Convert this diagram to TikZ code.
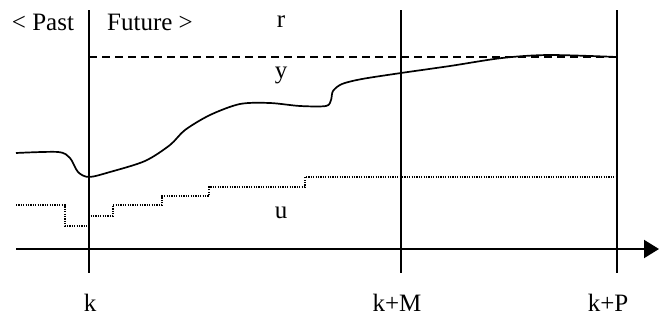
\documentclass[tikz,border=0pt]{standalone}
\usepackage{fontspec}
\setmainfont{Liberation Serif}
\usetikzlibrary{arrows.meta, calc}

\begin{document}
\begin{tikzpicture}[x=0.5pt, y=-0.5pt, font=\fontsize{12.5}{15}\selectfont]
  \useasboundingbox (0,0) rectangle (659,322);

  % time marks
  \coordinate (K) at (89,249);
  \coordinate (M) at (401,249);
  \coordinate (P) at (617,249);
  \coordinate (O) at (16,249);
  \coordinate (E) at (659,249);

  % time axis and vertical lines
  \draw[line width=1pt, -{Triangle[length=7.5pt, width=9pt]}] (O)--(E);
  \foreach \c in {K,M,P}
    \draw[line width=0.75pt] ($(\c)+(0,-239)$) -- ($(\c)+(0,24)$);

  % reference r
  \draw[line width=0.75pt, dash pattern=on 4pt off 2.5pt] (89,57)--(617,57);

  % output y
  \draw[line width=0.85pt] plot[smooth, tension=0.5] coordinates {
    (16,153) (58,152) (70,158) (78,172) (89,177) (110,172) (145,161)
    (170,145) (185,130) (210,115) (240,104) (270,103) (300,106) (326,106)
    (331,100) (333,91) (342,84) (362,79) (401,73) (450,66) (502,58)
    (549,55) (617,57)};

  % input u
  \draw[line width=0.6pt, dash pattern=on 0.6pt off 0.6pt]
    (16,205) -| (65,226) -| (89,216) -| (113,205) -| (162,196)
    -| (209,187) -| (305,177) -- (617,177);

  % labels
  \node at (43,22) {< Past};
  \node at (150,22) {Future >};
  \node at (281,22) {r};
  \node at (281,75) {y};
  \node at (281,213) {u};
  \node at (90,303) {k};
  \node at (397,303) {k+M};
  \node at (608,303) {k+P};
\end{tikzpicture}
\end{document}
